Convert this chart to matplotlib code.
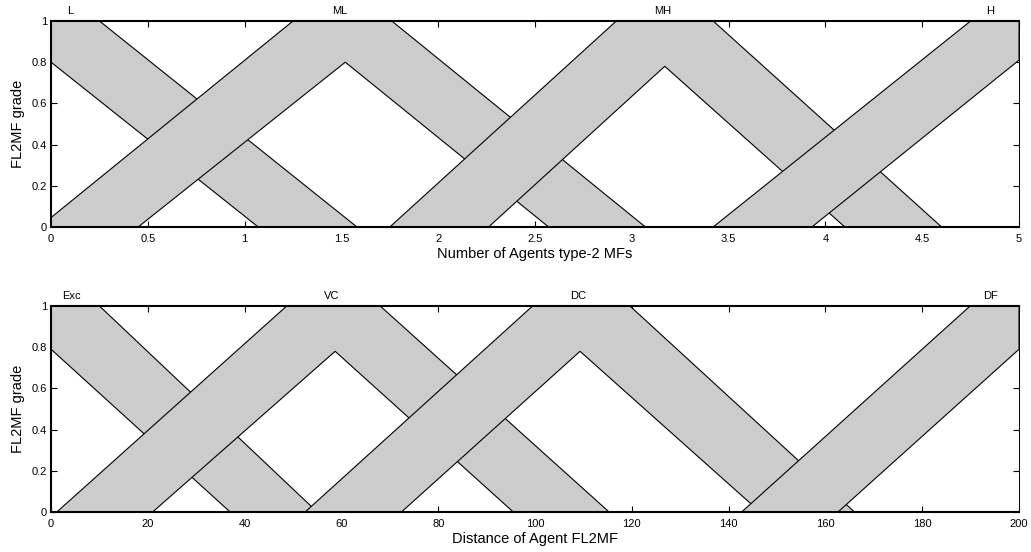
import matplotlib
matplotlib.use("Agg")
import matplotlib.pyplot as plt
import numpy as np

plt.rcParams["font.family"] = ["Liberation Sans", "DejaVu Sans"]

# --- top panel: number of agents (type-2 MFs) ---
agents_names = ["L", "ML", "MH", "H"]
agents_label_x = [0.1, 1.49, 3.16, 4.85]
agents_umf_x = [[0, 0.25, 1.58], [-0.06, 1.25, 1.76, 3.07], [1.75, 2.92, 3.42, 4.60], [3.42, 4.75, 5.0]]
agents_umf_y = [[1, 1, 0], [0, 1, 1, 0], [0, 1, 1, 0], [0, 1, 1]]
agents_lmf_x = [[0, 1.07], [0.45, 1.52, 2.57], [2.26, 3.17, 4.10], [3.93, 5.0]]
agents_lmf_y = [[0.80, 0], [0, 0.80, 0], [0, 0.78, 0], [0, 0.81]]

# --- bottom panel: distance of agent ---
dist_names = ["Exc", "VC", "DC", "DF"]
dist_label_x = [4.3, 58, 109, 194]
dist_umf_x = [[0, 10, 55], [1.2, 48.7, 68, 115.3], [52.5, 99.5, 119.6, 166], [142.7, 189.9, 200]]
dist_umf_y = [[1, 1, 0], [0, 1, 1, 0], [0, 1, 1, 0], [0, 1, 1]]
dist_lmf_x = [[0, 37], [21, 58.7, 95.5], [72.4, 109.3, 146.5], [162.6, 200]]
dist_lmf_y = [[0.79, 0], [0, 0.78, 0], [0, 0.78, 0], [0, 0.79]]


def draw_panel(ax, names, label_x, ux, uy, lx, ly, xmax, xticks, xticklabels, xlabel):
    for i in range(len(names)):
        # polygon: upper MF forward, lower MF backward
        px = list(ux[i]) + list(lx[i])[::-1]
        py = list(uy[i]) + list(ly[i])[::-1]
        ax.fill(px, py, facecolor="#cccccc", edgecolor="black", linewidth=0.8, zorder=1 + i * 0.01)
        ax.text(label_x[i], 1.025, names[i], ha="center", va="bottom", fontsize=8)
    ax.set_xlim(0, xmax)
    ax.set_ylim(0, 1)
    ax.set_xticks(xticks)
    ax.set_xticklabels(xticklabels)
    ax.set_yticks([0, 0.2, 0.4, 0.6, 0.8, 1])
    ax.set_yticklabels(["0", "0.2", "0.4", "0.6", "0.8", "1"])
    ax.tick_params(direction="in", length=4, width=0.8, top=True, right=True, labelsize=8, pad=3)
    ax.tick_params(axis="x", pad=5)
    ax.set_axisbelow(True)
    for s in ["left", "bottom", "top"]:
        ax.spines[s].set_linewidth(1.5)
    ax.spines["right"].set_linewidth(0.7)
    ax.set_xlabel(xlabel, fontsize=10.5, labelpad=2)
    ax.set_ylabel("FL2MF grade", fontsize=10.5, labelpad=5)


fig = plt.figure(figsize=(10.31, 5.52), dpi=100)
ax1 = fig.add_axes([0.0495, 0.5888, 0.9389, 0.3732])
ax2 = fig.add_axes([0.0495, 0.0725, 0.9389, 0.3732])

draw_panel(ax1, agents_names, agents_label_x, agents_umf_x, agents_umf_y, agents_lmf_x, agents_lmf_y,
           5, np.arange(0, 5.01, 0.5), ["0", "0.5", "1", "1.5", "2", "2.5", "3", "3.5", "4", "4.5", "5"],
           "Number of Agents type-2 MFs")
draw_panel(ax2, dist_names, dist_label_x, dist_umf_x, dist_umf_y, dist_lmf_x, dist_lmf_y,
           200, np.arange(0, 201, 20), [str(v) for v in range(0, 201, 20)],
           "Distance of Agent FL2MF")

fig.savefig("out.png", dpi=100)
plt.close(fig)
